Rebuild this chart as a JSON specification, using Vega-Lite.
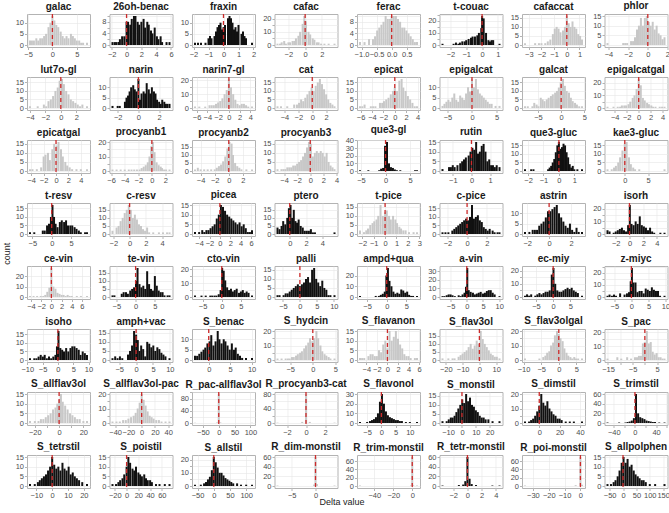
{
"$schema": "https://vega.github.io/schema/vega-lite/v6.json",
"padding": {"left": 2, "top": 0, "right": 2, "bottom": 1},
"background": "white",
"title": {"text": "count", "orient": "left", "anchor": "middle", "fontSize": 9, "fontWeight": "normal", "font": "Liberation Sans", "color": "#222", "offset": 3},
"datasets": {
"panels": [
{"p":"galac","k":"g"},{"p":"26oh-benac","k":"b"},{"p":"fraxin","k":"b"},{"p":"cafac","k":"g"},{"p":"ferac","k":"g"},{"p":"t-couac","k":"b"},{"p":"cafaccat","k":"g"},{"p":"phlor","k":"g"},
{"p":"lut7o-gl","k":"g"},{"p":"narin","k":"b"},{"p":"narin7-gl","k":"g"},{"p":"cat","k":"g"},{"p":"epicat","k":"g"},{"p":"epigalcat","k":"g"},{"p":"galcat","k":"g"},{"p":"epigalcatgal","k":"g"},
{"p":"epicatgal","k":"g"},{"p":"procyanb1","k":"g"},{"p":"procyanb2","k":"g"},{"p":"procyanb3","k":"g"},{"p":"que3-gl","k":"b"},{"p":"rutin","k":"b"},{"p":"que3-gluc","k":"b"},{"p":"kae3-gluc","k":"g"},
{"p":"t-resv","k":"b"},{"p":"c-resv","k":"g"},{"p":"picea","k":"b"},{"p":"ptero","k":"b"},{"p":"t-pice","k":"g"},{"p":"c-pice","k":"b"},{"p":"astrin","k":"b"},{"p":"isorh","k":"b"},
{"p":"ce-vin","k":"g"},{"p":"te-vin","k":"b"},{"p":"cto-vin","k":"b"},{"p":"palli","k":"b"},{"p":"ampd+qua","k":"b"},{"p":"a-vin","k":"b"},{"p":"ec-miy","k":"b"},{"p":"z-miyc","k":"b"},
{"p":"isoho","k":"b"},{"p":"amph+vac","k":"b"},{"p":"S_benac","k":"b"},{"p":"S_hydcin","k":"g"},{"p":"S_flavanon","k":"g"},{"p":"S_flav3ol","k":"g"},{"p":"S_flav3olgal","k":"g"},{"p":"S_pac","k":"g"},
{"p":"S_allflav3ol","k":"g"},{"p":"S_allflav3ol-pac","k":"g"},{"p":"R_pac-allflav3ol","k":"g"},{"p":"R_procyanb3-cat","k":"g"},{"p":"S_flavonol","k":"b"},{"p":"S_monstil","k":"b"},{"p":"S_dimstil","k":"b"},{"p":"S_trimstil","k":"b"},
{"p":"S_tetrstil","k":"b"},{"p":"S_poistil","k":"b"},{"p":"S_allstil","k":"b"},{"p":"R_dim-monstil","k":"g"},{"p":"R_trim-monstil","k":"g"},{"p":"R_tetr-monstil","k":"b"},{"p":"R_poi-monstil","k":"g"},{"p":"S_allpolphen","k":"b"}
],
"bars": [
{"p":"galac","x":-4.6,"y":2},{"p":"galac","x":-4.2,"y":2},{"p":"galac","x":-3.8,"y":2},{"p":"galac","x":-3.3,"y":3},{"p":"galac","x":-2.9,"y":2},{"p":"galac","x":-2.5,"y":3},{"p":"galac","x":-2.1,"y":3},{"p":"galac","x":-1.7,"y":4},{"p":"galac","x":-1.3,"y":5},{"p":"galac","x":-0.8,"y":8},{"p":"galac","x":-0.4,"y":10},{"p":"galac","x":0.0,"y":13},{"p":"galac","x":0.4,"y":11},{"p":"galac","x":0.8,"y":9},{"p":"galac","x":1.2,"y":8},{"p":"galac","x":1.7,"y":6},{"p":"galac","x":2.1,"y":4},{"p":"galac","x":2.5,"y":3},{"p":"galac","x":2.9,"y":4},{"p":"galac","x":3.3,"y":3},{"p":"galac","x":3.8,"y":5},{"p":"galac","x":4.2,"y":4},{"p":"galac","x":4.6,"y":3},{"p":"galac","x":5.0,"y":2},{"p":"galac","x":5.5,"y":2},{"p":"galac","x":5.9,"y":1},{"p":"galac","x":6.3,"y":1},{"p":"galac","x":7.1,"y":1},
{"p":"26oh-benac","x":-1.9,"y":1},{"p":"26oh-benac","x":-1.6,"y":1},{"p":"26oh-benac","x":-1.4,"y":1},{"p":"26oh-benac","x":-1.1,"y":1},{"p":"26oh-benac","x":-0.9,"y":2},{"p":"26oh-benac","x":-0.6,"y":3},{"p":"26oh-benac","x":-0.3,"y":3},{"p":"26oh-benac","x":0.0,"y":8},{"p":"26oh-benac","x":0.2,"y":8},{"p":"26oh-benac","x":0.5,"y":7},{"p":"26oh-benac","x":0.7,"y":9},{"p":"26oh-benac","x":1.0,"y":10},{"p":"26oh-benac","x":1.2,"y":10},{"p":"26oh-benac","x":1.5,"y":8},{"p":"26oh-benac","x":1.7,"y":7},{"p":"26oh-benac","x":2.0,"y":8},{"p":"26oh-benac","x":2.3,"y":9},{"p":"26oh-benac","x":2.5,"y":6},{"p":"26oh-benac","x":2.8,"y":8},{"p":"26oh-benac","x":3.0,"y":7},{"p":"26oh-benac","x":3.3,"y":5},{"p":"26oh-benac","x":3.5,"y":4},{"p":"26oh-benac","x":3.8,"y":6},{"p":"26oh-benac","x":4.1,"y":3},{"p":"26oh-benac","x":4.3,"y":2},{"p":"26oh-benac","x":4.6,"y":3},{"p":"26oh-benac","x":4.8,"y":1},{"p":"26oh-benac","x":5.4,"y":1},{"p":"26oh-benac","x":5.8,"y":1},
{"p":"fraxin","x":-1.9,"y":1},{"p":"fraxin","x":-1.7,"y":1},{"p":"fraxin","x":-1.5,"y":1},{"p":"fraxin","x":-1.2,"y":1},{"p":"fraxin","x":-1.0,"y":3},{"p":"fraxin","x":-0.9,"y":4},{"p":"fraxin","x":-0.8,"y":3},{"p":"fraxin","x":-0.6,"y":4},{"p":"fraxin","x":-0.5,"y":6},{"p":"fraxin","x":-0.4,"y":8},{"p":"fraxin","x":-0.3,"y":9},{"p":"fraxin","x":-0.2,"y":10},{"p":"fraxin","x":-0.1,"y":7},{"p":"fraxin","x":0.0,"y":8},{"p":"fraxin","x":0.1,"y":9},{"p":"fraxin","x":0.3,"y":12},{"p":"fraxin","x":0.4,"y":13},{"p":"fraxin","x":0.5,"y":12},{"p":"fraxin","x":0.6,"y":10},{"p":"fraxin","x":0.7,"y":7},{"p":"fraxin","x":0.8,"y":8},{"p":"fraxin","x":0.9,"y":6},{"p":"fraxin","x":1.0,"y":9},{"p":"fraxin","x":1.2,"y":5},{"p":"fraxin","x":1.3,"y":6},{"p":"fraxin","x":1.4,"y":4},{"p":"fraxin","x":1.5,"y":3},{"p":"fraxin","x":1.9,"y":1},
{"p":"cafac","x":-3.3,"y":1},{"p":"cafac","x":-3.0,"y":1},{"p":"cafac","x":-2.8,"y":2},{"p":"cafac","x":-2.5,"y":3},{"p":"cafac","x":-2.3,"y":1},{"p":"cafac","x":-2.0,"y":2},{"p":"cafac","x":-1.8,"y":2},{"p":"cafac","x":-1.5,"y":3},{"p":"cafac","x":-1.3,"y":3},{"p":"cafac","x":-1.1,"y":5},{"p":"cafac","x":-0.8,"y":7},{"p":"cafac","x":-0.6,"y":10},{"p":"cafac","x":-0.3,"y":16},{"p":"cafac","x":-0.1,"y":22},{"p":"cafac","x":0.1,"y":18},{"p":"cafac","x":0.4,"y":10},{"p":"cafac","x":0.6,"y":8},{"p":"cafac","x":0.9,"y":5},{"p":"cafac","x":1.1,"y":4},{"p":"cafac","x":1.4,"y":2},{"p":"cafac","x":1.6,"y":2},{"p":"cafac","x":1.9,"y":1},{"p":"cafac","x":2.3,"y":1},{"p":"cafac","x":2.8,"y":1},{"p":"cafac","x":3.5,"y":1},
{"p":"ferac","x":-1.05,"y":1},{"p":"ferac","x":-0.9,"y":1},{"p":"ferac","x":-0.75,"y":2},{"p":"ferac","x":-0.62,"y":2},{"p":"ferac","x":-0.55,"y":3},{"p":"ferac","x":-0.48,"y":5},{"p":"ferac","x":-0.41,"y":6},{"p":"ferac","x":-0.34,"y":7},{"p":"ferac","x":-0.27,"y":8},{"p":"ferac","x":-0.2,"y":10},{"p":"ferac","x":-0.13,"y":9},{"p":"ferac","x":-0.06,"y":9},{"p":"ferac","x":0.0,"y":10},{"p":"ferac","x":0.07,"y":10},{"p":"ferac","x":0.14,"y":10},{"p":"ferac","x":0.21,"y":9},{"p":"ferac","x":0.28,"y":8},{"p":"ferac","x":0.35,"y":6},{"p":"ferac","x":0.42,"y":6},{"p":"ferac","x":0.49,"y":5},{"p":"ferac","x":0.56,"y":4},{"p":"ferac","x":0.63,"y":3},{"p":"ferac","x":0.7,"y":2},{"p":"ferac","x":0.77,"y":1},{"p":"ferac","x":0.84,"y":1},
{"p":"t-couac","x":-2.5,"y":1},{"p":"t-couac","x":-1.8,"y":1},{"p":"t-couac","x":-1.65,"y":2},{"p":"t-couac","x":-1.5,"y":1},{"p":"t-couac","x":-1.4,"y":2},{"p":"t-couac","x":-1.25,"y":3},{"p":"t-couac","x":-1.1,"y":3},{"p":"t-couac","x":-1.0,"y":4},{"p":"t-couac","x":-0.85,"y":5},{"p":"t-couac","x":-0.7,"y":6},{"p":"t-couac","x":-0.6,"y":7},{"p":"t-couac","x":-0.45,"y":7},{"p":"t-couac","x":-0.3,"y":8},{"p":"t-couac","x":-0.2,"y":10},{"p":"t-couac","x":-0.05,"y":14},{"p":"t-couac","x":0.0,"y":24},{"p":"t-couac","x":0.1,"y":22},{"p":"t-couac","x":0.25,"y":10},{"p":"t-couac","x":0.4,"y":4},{"p":"t-couac","x":0.5,"y":3},{"p":"t-couac","x":0.6,"y":4},{"p":"t-couac","x":0.7,"y":4},{"p":"t-couac","x":1.1,"y":1},
{"p":"cafaccat","x":-3.3,"y":1},{"p":"cafaccat","x":-2.5,"y":1},{"p":"cafaccat","x":-2.2,"y":1},{"p":"cafaccat","x":-2.0,"y":1},{"p":"cafaccat","x":-1.7,"y":1},{"p":"cafaccat","x":-1.5,"y":2},{"p":"cafaccat","x":-1.3,"y":3},{"p":"cafaccat","x":-1.1,"y":6},{"p":"cafaccat","x":-0.95,"y":9},{"p":"cafaccat","x":-0.8,"y":10},{"p":"cafaccat","x":-0.65,"y":9},{"p":"cafaccat","x":-0.5,"y":7},{"p":"cafaccat","x":-0.3,"y":8},{"p":"cafaccat","x":-0.15,"y":10},{"p":"cafaccat","x":0.0,"y":16},{"p":"cafaccat","x":0.15,"y":12},{"p":"cafaccat","x":0.3,"y":10},{"p":"cafaccat","x":0.45,"y":13},{"p":"cafaccat","x":0.6,"y":10},{"p":"cafaccat","x":0.75,"y":9},{"p":"cafaccat","x":0.9,"y":6},{"p":"cafaccat","x":1.05,"y":5},{"p":"cafaccat","x":1.2,"y":3},
{"p":"phlor","x":-4.1,"y":1},{"p":"phlor","x":-2.5,"y":1},{"p":"phlor","x":-2.3,"y":1},{"p":"phlor","x":-2.1,"y":1},{"p":"phlor","x":-1.7,"y":2},{"p":"phlor","x":-1.5,"y":2},{"p":"phlor","x":-1.3,"y":4},{"p":"phlor","x":-1.1,"y":8},{"p":"phlor","x":-0.9,"y":10},{"p":"phlor","x":-0.7,"y":14},{"p":"phlor","x":-0.5,"y":10},{"p":"phlor","x":-0.3,"y":14},{"p":"phlor","x":-0.1,"y":15},{"p":"phlor","x":0.1,"y":12},{"p":"phlor","x":0.3,"y":10},{"p":"phlor","x":0.5,"y":12},{"p":"phlor","x":0.7,"y":8},{"p":"phlor","x":0.9,"y":10},{"p":"phlor","x":1.1,"y":6},{"p":"phlor","x":1.3,"y":5},{"p":"phlor","x":1.5,"y":3},{"p":"phlor","x":1.7,"y":4},
{"p":"lut7o-gl","x":-4.0,"y":1},{"p":"lut7o-gl","x":-3.0,"y":1},{"p":"lut7o-gl","x":-2.2,"y":2},{"p":"lut7o-gl","x":-1.9,"y":1},{"p":"lut7o-gl","x":-1.6,"y":4},{"p":"lut7o-gl","x":-1.3,"y":5},{"p":"lut7o-gl","x":-1.0,"y":7},{"p":"lut7o-gl","x":-0.7,"y":10},{"p":"lut7o-gl","x":-0.4,"y":12},{"p":"lut7o-gl","x":-0.15,"y":16},{"p":"lut7o-gl","x":0.15,"y":17},{"p":"lut7o-gl","x":0.4,"y":14},{"p":"lut7o-gl","x":0.7,"y":10},{"p":"lut7o-gl","x":1.0,"y":8},{"p":"lut7o-gl","x":1.3,"y":5},{"p":"lut7o-gl","x":1.6,"y":4},{"p":"lut7o-gl","x":1.9,"y":3},{"p":"lut7o-gl","x":2.2,"y":2},{"p":"lut7o-gl","x":2.5,"y":1},{"p":"lut7o-gl","x":2.8,"y":2},{"p":"lut7o-gl","x":3.4,"y":1},
{"p":"narin","x":-2.5,"y":1},{"p":"narin","x":-2.0,"y":1},{"p":"narin","x":-1.8,"y":1},{"p":"narin","x":-1.3,"y":3},{"p":"narin","x":-1.15,"y":5},{"p":"narin","x":-1.0,"y":6},{"p":"narin","x":-0.85,"y":8},{"p":"narin","x":-0.7,"y":10},{"p":"narin","x":-0.5,"y":11},{"p":"narin","x":-0.35,"y":9},{"p":"narin","x":-0.2,"y":8},{"p":"narin","x":0.0,"y":14},{"p":"narin","x":0.15,"y":4},{"p":"narin","x":0.3,"y":7},{"p":"narin","x":0.5,"y":8},{"p":"narin","x":0.65,"y":7},{"p":"narin","x":0.8,"y":12},{"p":"narin","x":1.0,"y":9},{"p":"narin","x":1.15,"y":7},{"p":"narin","x":1.3,"y":10},{"p":"narin","x":1.5,"y":8},{"p":"narin","x":1.65,"y":7},{"p":"narin","x":1.8,"y":4},{"p":"narin","x":2.0,"y":3},{"p":"narin","x":2.15,"y":2},{"p":"narin","x":2.3,"y":4},{"p":"narin","x":2.5,"y":3},{"p":"narin","x":2.65,"y":2},{"p":"narin","x":2.8,"y":2},{"p":"narin","x":3.0,"y":2},
{"p":"narin7-gl","x":-6.3,"y":1},{"p":"narin7-gl","x":-5.5,"y":1},{"p":"narin7-gl","x":-4.4,"y":1},{"p":"narin7-gl","x":-3.6,"y":2},{"p":"narin7-gl","x":-3.2,"y":2},{"p":"narin7-gl","x":-2.8,"y":2},{"p":"narin7-gl","x":-2.4,"y":3},{"p":"narin7-gl","x":-2.0,"y":4},{"p":"narin7-gl","x":-1.6,"y":5},{"p":"narin7-gl","x":-1.2,"y":7},{"p":"narin7-gl","x":-0.8,"y":10},{"p":"narin7-gl","x":-0.4,"y":13},{"p":"narin7-gl","x":0.0,"y":21},{"p":"narin7-gl","x":0.4,"y":15},{"p":"narin7-gl","x":0.8,"y":10},{"p":"narin7-gl","x":1.2,"y":6},{"p":"narin7-gl","x":1.6,"y":3},{"p":"narin7-gl","x":2.0,"y":2},{"p":"narin7-gl","x":2.4,"y":3},{"p":"narin7-gl","x":2.8,"y":3},{"p":"narin7-gl","x":3.2,"y":2},{"p":"narin7-gl","x":3.6,"y":1},{"p":"narin7-gl","x":4.3,"y":1},
{"p":"cat","x":-5.0,"y":1},{"p":"cat","x":-4.5,"y":1},{"p":"cat","x":-3.6,"y":1},{"p":"cat","x":-2.6,"y":2},{"p":"cat","x":-2.2,"y":2},{"p":"cat","x":-1.9,"y":3},{"p":"cat","x":-1.6,"y":5},{"p":"cat","x":-1.3,"y":4},{"p":"cat","x":-1.0,"y":6},{"p":"cat","x":-0.7,"y":8},{"p":"cat","x":-0.4,"y":10},{"p":"cat","x":-0.1,"y":12},{"p":"cat","x":0.2,"y":10},{"p":"cat","x":0.5,"y":13},{"p":"cat","x":0.8,"y":15},{"p":"cat","x":1.1,"y":17},{"p":"cat","x":1.4,"y":14},{"p":"cat","x":1.7,"y":11},{"p":"cat","x":2.0,"y":8},{"p":"cat","x":2.3,"y":5},{"p":"cat","x":2.6,"y":3},{"p":"cat","x":2.9,"y":2},{"p":"cat","x":3.2,"y":1},
{"p":"epicat","x":-6.1,"y":1},{"p":"epicat","x":-5.7,"y":1},{"p":"epicat","x":-5.3,"y":2},{"p":"epicat","x":-4.2,"y":1},{"p":"epicat","x":-3.8,"y":1},{"p":"epicat","x":-3.4,"y":1},{"p":"epicat","x":-2.6,"y":3},{"p":"epicat","x":-2.2,"y":3},{"p":"epicat","x":-1.9,"y":4},{"p":"epicat","x":-1.5,"y":5},{"p":"epicat","x":-1.1,"y":6},{"p":"epicat","x":-0.7,"y":8},{"p":"epicat","x":-0.3,"y":10},{"p":"epicat","x":0.0,"y":12},{"p":"epicat","x":0.4,"y":10},{"p":"epicat","x":0.8,"y":16},{"p":"epicat","x":1.2,"y":17},{"p":"epicat","x":1.5,"y":12},{"p":"epicat","x":1.9,"y":10},{"p":"epicat","x":2.3,"y":7},{"p":"epicat","x":2.7,"y":5},{"p":"epicat","x":3.1,"y":3},{"p":"epicat","x":3.5,"y":1},{"p":"epicat","x":3.9,"y":1},
{"p":"epigalcat","x":-6.0,"y":1},{"p":"epigalcat","x":-5.6,"y":2},{"p":"epigalcat","x":-5.2,"y":3},{"p":"epigalcat","x":-4.8,"y":4},{"p":"epigalcat","x":-4.4,"y":3},{"p":"epigalcat","x":-4.0,"y":5},{"p":"epigalcat","x":-3.6,"y":7},{"p":"epigalcat","x":-3.2,"y":4},{"p":"epigalcat","x":-2.8,"y":3},{"p":"epigalcat","x":-2.4,"y":6},{"p":"epigalcat","x":-2.0,"y":5},{"p":"epigalcat","x":-1.6,"y":4},{"p":"epigalcat","x":-1.2,"y":7},{"p":"epigalcat","x":-0.8,"y":10},{"p":"epigalcat","x":-0.4,"y":8},{"p":"epigalcat","x":0.0,"y":14},{"p":"epigalcat","x":0.4,"y":10},{"p":"epigalcat","x":0.8,"y":14},{"p":"epigalcat","x":1.2,"y":9},{"p":"epigalcat","x":1.6,"y":7},{"p":"epigalcat","x":2.0,"y":6},{"p":"epigalcat","x":2.4,"y":5},{"p":"epigalcat","x":2.8,"y":4},{"p":"epigalcat","x":3.2,"y":3},{"p":"epigalcat","x":3.6,"y":2},{"p":"epigalcat","x":4.0,"y":2},{"p":"epigalcat","x":4.8,"y":1},{"p":"epigalcat","x":5.6,"y":1},
{"p":"galcat","x":-7.8,"y":1},{"p":"galcat","x":-7.2,"y":1},{"p":"galcat","x":-6.2,"y":1},{"p":"galcat","x":-5.8,"y":3},{"p":"galcat","x":-5.3,"y":2},{"p":"galcat","x":-4.9,"y":1},{"p":"galcat","x":-4.4,"y":6},{"p":"galcat","x":-4.0,"y":5},{"p":"galcat","x":-3.6,"y":4},{"p":"galcat","x":-3.1,"y":5},{"p":"galcat","x":-2.7,"y":6},{"p":"galcat","x":-2.2,"y":7},{"p":"galcat","x":-1.8,"y":8},{"p":"galcat","x":-1.3,"y":9},{"p":"galcat","x":-0.9,"y":10},{"p":"galcat","x":-0.5,"y":12},{"p":"galcat","x":-0.1,"y":15},{"p":"galcat","x":0.4,"y":17},{"p":"galcat","x":0.8,"y":13},{"p":"galcat","x":1.2,"y":10},{"p":"galcat","x":1.7,"y":9},{"p":"galcat","x":2.1,"y":6},{"p":"galcat","x":2.5,"y":4},{"p":"galcat","x":3.0,"y":3},{"p":"galcat","x":3.4,"y":2},{"p":"galcat","x":3.9,"y":1},{"p":"galcat","x":4.5,"y":1},
{"p":"epigalcatgal","x":-5.2,"y":1},{"p":"epigalcatgal","x":-4.2,"y":1},{"p":"epigalcatgal","x":-3.5,"y":1},{"p":"epigalcatgal","x":-3.1,"y":1},{"p":"epigalcatgal","x":-2.8,"y":2},{"p":"epigalcatgal","x":-2.4,"y":2},{"p":"epigalcatgal","x":-2.1,"y":2},{"p":"epigalcatgal","x":-1.7,"y":3},{"p":"epigalcatgal","x":-1.4,"y":5},{"p":"epigalcatgal","x":-1.0,"y":8},{"p":"epigalcatgal","x":-0.7,"y":10},{"p":"epigalcatgal","x":-0.35,"y":15},{"p":"epigalcatgal","x":0.0,"y":23},{"p":"epigalcatgal","x":0.35,"y":18},{"p":"epigalcatgal","x":0.7,"y":8},{"p":"epigalcatgal","x":1.0,"y":6},{"p":"epigalcatgal","x":1.4,"y":4},{"p":"epigalcatgal","x":1.7,"y":3},{"p":"epigalcatgal","x":2.1,"y":2},{"p":"epigalcatgal","x":2.4,"y":1},{"p":"epigalcatgal","x":2.8,"y":1},{"p":"epigalcatgal","x":3.5,"y":1},{"p":"epigalcatgal","x":3.9,"y":1},{"p":"epigalcatgal","x":4.3,"y":1},
{"p":"epicatgal","x":-4.2,"y":1},{"p":"epicatgal","x":-3.8,"y":1},{"p":"epicatgal","x":-3.1,"y":1},{"p":"epicatgal","x":-2.4,"y":2},{"p":"epicatgal","x":-2.0,"y":8},{"p":"epicatgal","x":-1.7,"y":9},{"p":"epicatgal","x":-1.3,"y":10},{"p":"epicatgal","x":-1.0,"y":6},{"p":"epicatgal","x":-0.6,"y":12},{"p":"epicatgal","x":-0.3,"y":15},{"p":"epicatgal","x":0.1,"y":14},{"p":"epicatgal","x":0.4,"y":16},{"p":"epicatgal","x":0.8,"y":12},{"p":"epicatgal","x":1.1,"y":8},{"p":"epicatgal","x":1.5,"y":5},{"p":"epicatgal","x":1.8,"y":3},{"p":"epicatgal","x":2.2,"y":2},{"p":"epicatgal","x":2.6,"y":1},{"p":"epicatgal","x":3.3,"y":1},{"p":"epicatgal","x":4.0,"y":1},{"p":"epicatgal","x":5.0,"y":1},
{"p":"procyanb1","x":-5.8,"y":1},{"p":"procyanb1","x":-5.2,"y":1},{"p":"procyanb1","x":-4.6,"y":1},{"p":"procyanb1","x":-4.0,"y":1},{"p":"procyanb1","x":-3.4,"y":1},{"p":"procyanb1","x":-3.0,"y":1},{"p":"procyanb1","x":-2.6,"y":1},{"p":"procyanb1","x":-2.2,"y":1},{"p":"procyanb1","x":-1.8,"y":1},{"p":"procyanb1","x":-1.5,"y":2},{"p":"procyanb1","x":-1.2,"y":3},{"p":"procyanb1","x":-0.9,"y":4},{"p":"procyanb1","x":-0.6,"y":6},{"p":"procyanb1","x":-0.35,"y":10},{"p":"procyanb1","x":-0.1,"y":17},{"p":"procyanb1","x":0.15,"y":20},{"p":"procyanb1","x":0.4,"y":13},{"p":"procyanb1","x":0.7,"y":6},{"p":"procyanb1","x":1.0,"y":4},{"p":"procyanb1","x":1.3,"y":3},{"p":"procyanb1","x":1.5,"y":2},{"p":"procyanb1","x":1.8,"y":1},{"p":"procyanb1","x":2.1,"y":1},{"p":"procyanb1","x":2.6,"y":1},
{"p":"procyanb2","x":-4.8,"y":1},{"p":"procyanb2","x":-4.4,"y":2},{"p":"procyanb2","x":-4.0,"y":1},{"p":"procyanb2","x":-3.5,"y":1},{"p":"procyanb2","x":-3.0,"y":1},{"p":"procyanb2","x":-2.5,"y":1},{"p":"procyanb2","x":-2.0,"y":1},{"p":"procyanb2","x":-1.7,"y":2},{"p":"procyanb2","x":-1.4,"y":3},{"p":"procyanb2","x":-1.1,"y":4},{"p":"procyanb2","x":-0.8,"y":6},{"p":"procyanb2","x":-0.5,"y":9},{"p":"procyanb2","x":-0.2,"y":14},{"p":"procyanb2","x":0.1,"y":18},{"p":"procyanb2","x":0.4,"y":17},{"p":"procyanb2","x":0.6,"y":10},{"p":"procyanb2","x":0.9,"y":5},{"p":"procyanb2","x":1.2,"y":3},{"p":"procyanb2","x":1.5,"y":2},{"p":"procyanb2","x":1.8,"y":1},{"p":"procyanb2","x":2.5,"y":1},{"p":"procyanb2","x":3.3,"y":1},
{"p":"procyanb3","x":-5.0,"y":1},{"p":"procyanb3","x":-4.4,"y":1},{"p":"procyanb3","x":-4.1,"y":1},{"p":"procyanb3","x":-3.8,"y":1},{"p":"procyanb3","x":-3.5,"y":2},{"p":"procyanb3","x":-3.2,"y":2},{"p":"procyanb3","x":-2.9,"y":2},{"p":"procyanb3","x":-2.6,"y":3},{"p":"procyanb3","x":-2.3,"y":3},{"p":"procyanb3","x":-2.0,"y":4},{"p":"procyanb3","x":-1.7,"y":5},{"p":"procyanb3","x":-1.4,"y":6},{"p":"procyanb3","x":-1.1,"y":8},{"p":"procyanb3","x":-0.8,"y":10},{"p":"procyanb3","x":-0.5,"y":13},{"p":"procyanb3","x":-0.2,"y":16},{"p":"procyanb3","x":0.1,"y":15},{"p":"procyanb3","x":0.4,"y":8},{"p":"procyanb3","x":0.7,"y":10},{"p":"procyanb3","x":1.0,"y":11},{"p":"procyanb3","x":1.3,"y":10},{"p":"procyanb3","x":1.6,"y":11},{"p":"procyanb3","x":1.9,"y":10},{"p":"procyanb3","x":2.2,"y":8},{"p":"procyanb3","x":2.5,"y":10},{"p":"procyanb3","x":2.8,"y":5},{"p":"procyanb3","x":3.1,"y":3},{"p":"procyanb3","x":3.4,"y":2},{"p":"procyanb3","x":3.7,"y":1},
{"p":"que3-gl","x":-5.2,"y":1},{"p":"que3-gl","x":-3.5,"y":1},{"p":"que3-gl","x":-1.3,"y":1},{"p":"que3-gl","x":-0.9,"y":3},{"p":"que3-gl","x":-0.5,"y":4},{"p":"que3-gl","x":-0.1,"y":33},{"p":"que3-gl","x":0.3,"y":38},{"p":"que3-gl","x":0.7,"y":10},{"p":"que3-gl","x":1.1,"y":5},{"p":"que3-gl","x":1.5,"y":4},{"p":"que3-gl","x":1.9,"y":2},{"p":"que3-gl","x":2.3,"y":1},{"p":"que3-gl","x":3.0,"y":1},{"p":"que3-gl","x":6.0,"y":1},{"p":"que3-gl","x":6.4,"y":1},
{"p":"rutin","x":-1.55,"y":1},{"p":"rutin","x":-1.2,"y":2},{"p":"rutin","x":-1.1,"y":2},{"p":"rutin","x":-1.0,"y":3},{"p":"rutin","x":-0.9,"y":2},{"p":"rutin","x":-0.75,"y":3},{"p":"rutin","x":-0.6,"y":4},{"p":"rutin","x":-0.5,"y":5},{"p":"rutin","x":-0.4,"y":6},{"p":"rutin","x":-0.3,"y":7},{"p":"rutin","x":-0.15,"y":8},{"p":"rutin","x":-0.05,"y":10},{"p":"rutin","x":0.05,"y":12},{"p":"rutin","x":0.15,"y":11},{"p":"rutin","x":0.25,"y":15},{"p":"rutin","x":0.35,"y":9},{"p":"rutin","x":0.45,"y":10},{"p":"rutin","x":0.55,"y":13},{"p":"rutin","x":0.65,"y":14},{"p":"rutin","x":0.75,"y":10},{"p":"rutin","x":0.85,"y":5},{"p":"rutin","x":0.95,"y":6},{"p":"rutin","x":1.05,"y":3},{"p":"rutin","x":1.15,"y":3},{"p":"rutin","x":1.25,"y":2},{"p":"rutin","x":1.35,"y":3},{"p":"rutin","x":1.5,"y":2},
{"p":"que3-gluc","x":-2.2,"y":1},{"p":"que3-gluc","x":-1.8,"y":1},{"p":"que3-gluc","x":-1.65,"y":1},{"p":"que3-gluc","x":-0.7,"y":1},{"p":"que3-gluc","x":-0.6,"y":2},{"p":"que3-gluc","x":-0.5,"y":3},{"p":"que3-gluc","x":-0.4,"y":5},{"p":"que3-gluc","x":-0.3,"y":7},{"p":"que3-gluc","x":-0.2,"y":11},{"p":"que3-gluc","x":-0.1,"y":15},{"p":"que3-gluc","x":0.0,"y":17},{"p":"que3-gluc","x":0.1,"y":13},{"p":"que3-gluc","x":0.2,"y":14},{"p":"que3-gluc","x":0.3,"y":16},{"p":"que3-gluc","x":0.4,"y":15},{"p":"que3-gluc","x":0.5,"y":11},{"p":"que3-gluc","x":0.6,"y":8},{"p":"que3-gluc","x":0.7,"y":4},{"p":"que3-gluc","x":0.8,"y":2},{"p":"que3-gluc","x":0.9,"y":3},{"p":"que3-gluc","x":1.0,"y":1},{"p":"que3-gluc","x":1.2,"y":1},{"p":"que3-gluc","x":1.5,"y":1},
{"p":"kae3-gluc","x":-3.7,"y":1},{"p":"kae3-gluc","x":-2.8,"y":1},{"p":"kae3-gluc","x":-2.3,"y":2},{"p":"kae3-gluc","x":-1.9,"y":3},{"p":"kae3-gluc","x":-1.4,"y":5},{"p":"kae3-gluc","x":-1.0,"y":8},{"p":"kae3-gluc","x":-0.5,"y":12},{"p":"kae3-gluc","x":0.0,"y":16},{"p":"kae3-gluc","x":0.4,"y":17},{"p":"kae3-gluc","x":0.9,"y":8},{"p":"kae3-gluc","x":1.3,"y":4},{"p":"kae3-gluc","x":1.8,"y":2},{"p":"kae3-gluc","x":2.2,"y":1},{"p":"kae3-gluc","x":3.1,"y":1},{"p":"kae3-gluc","x":8.5,"y":1},
{"p":"t-resv","x":-5.6,"y":1},{"p":"t-resv","x":-4.5,"y":1},{"p":"t-resv","x":-2.3,"y":2},{"p":"t-resv","x":-1.8,"y":2},{"p":"t-resv","x":-1.2,"y":5},{"p":"t-resv","x":-0.7,"y":6},{"p":"t-resv","x":-0.2,"y":10},{"p":"t-resv","x":0.2,"y":17},{"p":"t-resv","x":0.6,"y":10},{"p":"t-resv","x":1.0,"y":6},{"p":"t-resv","x":1.5,"y":4},{"p":"t-resv","x":2.1,"y":7},{"p":"t-resv","x":2.6,"y":8},{"p":"t-resv","x":3.2,"y":7},{"p":"t-resv","x":3.7,"y":8},{"p":"t-resv","x":4.2,"y":5},{"p":"t-resv","x":4.8,"y":5},{"p":"t-resv","x":5.3,"y":5},{"p":"t-resv","x":5.9,"y":4},{"p":"t-resv","x":6.4,"y":3},{"p":"t-resv","x":7.0,"y":2},{"p":"t-resv","x":7.5,"y":1},{"p":"t-resv","x":8.6,"y":1},{"p":"t-resv","x":9.1,"y":1},
{"p":"c-resv","x":-2.1,"y":2},{"p":"c-resv","x":-1.6,"y":4},{"p":"c-resv","x":-1.35,"y":5},{"p":"c-resv","x":-1.1,"y":8},{"p":"c-resv","x":-0.85,"y":10},{"p":"c-resv","x":-0.6,"y":13},{"p":"c-resv","x":-0.35,"y":15},{"p":"c-resv","x":-0.1,"y":18},{"p":"c-resv","x":0.15,"y":15},{"p":"c-resv","x":0.4,"y":10},{"p":"c-resv","x":0.65,"y":12},{"p":"c-resv","x":0.9,"y":9},{"p":"c-resv","x":1.15,"y":6},{"p":"c-resv","x":1.4,"y":5},{"p":"c-resv","x":1.65,"y":3},{"p":"c-resv","x":1.9,"y":2},{"p":"c-resv","x":2.15,"y":4},{"p":"c-resv","x":2.4,"y":1},{"p":"c-resv","x":2.9,"y":1},{"p":"c-resv","x":3.6,"y":1},{"p":"c-resv","x":4.1,"y":1},{"p":"c-resv","x":4.6,"y":1},{"p":"c-resv","x":4.9,"y":1},
{"p":"picea","x":-4.8,"y":1},{"p":"picea","x":-4.0,"y":1},{"p":"picea","x":-3.4,"y":2},{"p":"picea","x":-3.0,"y":1},{"p":"picea","x":-2.6,"y":2},{"p":"picea","x":-2.2,"y":2},{"p":"picea","x":-1.8,"y":3},{"p":"picea","x":-1.4,"y":4},{"p":"picea","x":-1.0,"y":5},{"p":"picea","x":-0.6,"y":8},{"p":"picea","x":-0.2,"y":10},{"p":"picea","x":0.2,"y":15},{"p":"picea","x":0.6,"y":14},{"p":"picea","x":1.0,"y":12},{"p":"picea","x":1.4,"y":10},{"p":"picea","x":1.8,"y":9},{"p":"picea","x":2.2,"y":8},{"p":"picea","x":2.6,"y":7},{"p":"picea","x":3.0,"y":6},{"p":"picea","x":3.4,"y":5},{"p":"picea","x":3.8,"y":6},{"p":"picea","x":4.2,"y":4},{"p":"picea","x":4.6,"y":5},{"p":"picea","x":5.0,"y":3},{"p":"picea","x":5.4,"y":1},{"p":"picea","x":5.8,"y":1},{"p":"picea","x":6.2,"y":2},
{"p":"ptero","x":-1.5,"y":4},{"p":"ptero","x":-1.25,"y":3},{"p":"ptero","x":-1.0,"y":5},{"p":"ptero","x":-0.8,"y":8},{"p":"ptero","x":-0.55,"y":6},{"p":"ptero","x":-0.3,"y":10},{"p":"ptero","x":-0.1,"y":16},{"p":"ptero","x":0.1,"y":18},{"p":"ptero","x":0.3,"y":10},{"p":"ptero","x":0.5,"y":15},{"p":"ptero","x":0.7,"y":8},{"p":"ptero","x":0.9,"y":7},{"p":"ptero","x":1.1,"y":9},{"p":"ptero","x":1.35,"y":5},{"p":"ptero","x":1.6,"y":4},{"p":"ptero","x":1.85,"y":2},{"p":"ptero","x":2.1,"y":2},{"p":"ptero","x":2.35,"y":2},{"p":"ptero","x":2.6,"y":3},{"p":"ptero","x":2.85,"y":1},{"p":"ptero","x":3.1,"y":1},{"p":"ptero","x":5.5,"y":1},
{"p":"t-pice","x":-2.2,"y":2},{"p":"t-pice","x":-1.85,"y":1},{"p":"t-pice","x":-1.65,"y":2},{"p":"t-pice","x":-1.5,"y":3},{"p":"t-pice","x":-1.3,"y":5},{"p":"t-pice","x":-1.1,"y":6},{"p":"t-pice","x":-0.95,"y":7},{"p":"t-pice","x":-0.75,"y":8},{"p":"t-pice","x":-0.6,"y":10},{"p":"t-pice","x":-0.4,"y":16},{"p":"t-pice","x":-0.2,"y":10},{"p":"t-pice","x":0.0,"y":12},{"p":"t-pice","x":0.15,"y":13},{"p":"t-pice","x":0.35,"y":10},{"p":"t-pice","x":0.5,"y":8},{"p":"t-pice","x":0.7,"y":10},{"p":"t-pice","x":0.9,"y":8},{"p":"t-pice","x":1.05,"y":6},{"p":"t-pice","x":1.25,"y":4},{"p":"t-pice","x":1.4,"y":3},{"p":"t-pice","x":1.6,"y":2},{"p":"t-pice","x":1.8,"y":2},{"p":"t-pice","x":2.1,"y":1},{"p":"t-pice","x":2.5,"y":1},{"p":"t-pice","x":2.8,"y":1},
{"p":"c-pice","x":-2.5,"y":1},{"p":"c-pice","x":-2.2,"y":1},{"p":"c-pice","x":-1.9,"y":1},{"p":"c-pice","x":-1.5,"y":2},{"p":"c-pice","x":-1.3,"y":3},{"p":"c-pice","x":-1.1,"y":4},{"p":"c-pice","x":-0.9,"y":5},{"p":"c-pice","x":-0.7,"y":6},{"p":"c-pice","x":-0.5,"y":7},{"p":"c-pice","x":-0.3,"y":8},{"p":"c-pice","x":-0.1,"y":9},{"p":"c-pice","x":0.1,"y":8},{"p":"c-pice","x":0.3,"y":10},{"p":"c-pice","x":0.5,"y":17},{"p":"c-pice","x":0.7,"y":9},{"p":"c-pice","x":0.9,"y":10},{"p":"c-pice","x":1.1,"y":11},{"p":"c-pice","x":1.3,"y":8},{"p":"c-pice","x":1.5,"y":7},{"p":"c-pice","x":1.7,"y":4},{"p":"c-pice","x":1.9,"y":3},{"p":"c-pice","x":2.1,"y":2},{"p":"c-pice","x":2.3,"y":3},{"p":"c-pice","x":2.6,"y":2},{"p":"c-pice","x":2.8,"y":1},{"p":"c-pice","x":3.1,"y":1},{"p":"c-pice","x":3.3,"y":1},
{"p":"astrin","x":-2.2,"y":1},{"p":"astrin","x":-1.8,"y":1},{"p":"astrin","x":-1.5,"y":2},{"p":"astrin","x":-1.3,"y":2},{"p":"astrin","x":-1.1,"y":2},{"p":"astrin","x":-0.9,"y":4},{"p":"astrin","x":-0.7,"y":5},{"p":"astrin","x":-0.5,"y":6},{"p":"astrin","x":-0.3,"y":8},{"p":"astrin","x":-0.1,"y":11},{"p":"astrin","x":0.1,"y":11},{"p":"astrin","x":0.3,"y":12},{"p":"astrin","x":0.5,"y":13},{"p":"astrin","x":0.7,"y":14},{"p":"astrin","x":0.9,"y":10},{"p":"astrin","x":1.1,"y":8},{"p":"astrin","x":1.3,"y":6},{"p":"astrin","x":1.5,"y":4},{"p":"astrin","x":1.7,"y":3},{"p":"astrin","x":1.9,"y":5},{"p":"astrin","x":2.1,"y":2},{"p":"astrin","x":2.3,"y":1},{"p":"astrin","x":2.5,"y":3},{"p":"astrin","x":2.7,"y":1},{"p":"astrin","x":3.0,"y":1},
{"p":"isorh","x":-3.2,"y":3},{"p":"isorh","x":-2.9,"y":2},{"p":"isorh","x":-2.3,"y":1},{"p":"isorh","x":-2.0,"y":2},{"p":"isorh","x":-1.7,"y":3},{"p":"isorh","x":-1.4,"y":4},{"p":"isorh","x":-1.1,"y":5},{"p":"isorh","x":-0.8,"y":3},{"p":"isorh","x":-0.5,"y":2},{"p":"isorh","x":-0.2,"y":7},{"p":"isorh","x":0.05,"y":23},{"p":"isorh","x":0.3,"y":8},{"p":"isorh","x":0.6,"y":7},{"p":"isorh","x":0.9,"y":10},{"p":"isorh","x":1.2,"y":8},{"p":"isorh","x":1.5,"y":14},{"p":"isorh","x":1.8,"y":7},{"p":"isorh","x":2.1,"y":6},{"p":"isorh","x":2.4,"y":5},{"p":"isorh","x":2.7,"y":3},{"p":"isorh","x":3.0,"y":5},{"p":"isorh","x":3.3,"y":2},{"p":"isorh","x":3.6,"y":1},{"p":"isorh","x":4.5,"y":1},{"p":"isorh","x":5.1,"y":1},
{"p":"ce-vin","x":-4.2,"y":1},{"p":"ce-vin","x":-3.5,"y":1},{"p":"ce-vin","x":-2.8,"y":1},{"p":"ce-vin","x":-2.1,"y":1},{"p":"ce-vin","x":-1.6,"y":1},{"p":"ce-vin","x":-1.2,"y":2},{"p":"ce-vin","x":-0.8,"y":5},{"p":"ce-vin","x":-0.4,"y":9},{"p":"ce-vin","x":0.0,"y":28},{"p":"ce-vin","x":0.4,"y":10},{"p":"ce-vin","x":0.8,"y":8},{"p":"ce-vin","x":1.2,"y":4},{"p":"ce-vin","x":1.6,"y":3},{"p":"ce-vin","x":2.0,"y":2},{"p":"ce-vin","x":2.4,"y":2},{"p":"ce-vin","x":2.8,"y":1},{"p":"ce-vin","x":3.2,"y":2},{"p":"ce-vin","x":3.6,"y":1},{"p":"ce-vin","x":4.0,"y":1},{"p":"ce-vin","x":5.0,"y":1},{"p":"ce-vin","x":5.8,"y":1},{"p":"ce-vin","x":7.0,"y":1},
{"p":"te-vin","x":-6.0,"y":1},{"p":"te-vin","x":-5.5,"y":1},{"p":"te-vin","x":-3.6,"y":2},{"p":"te-vin","x":-3.1,"y":3},{"p":"te-vin","x":-2.5,"y":3},{"p":"te-vin","x":-2.0,"y":2},{"p":"te-vin","x":-1.4,"y":4},{"p":"te-vin","x":-0.9,"y":5},{"p":"te-vin","x":-0.4,"y":6},{"p":"te-vin","x":0.1,"y":10},{"p":"te-vin","x":0.5,"y":18},{"p":"te-vin","x":1.0,"y":8},{"p":"te-vin","x":1.5,"y":6},{"p":"te-vin","x":2.0,"y":7},{"p":"te-vin","x":2.5,"y":5},{"p":"te-vin","x":3.0,"y":16},{"p":"te-vin","x":3.5,"y":8},{"p":"te-vin","x":4.0,"y":5},{"p":"te-vin","x":4.5,"y":4},{"p":"te-vin","x":5.0,"y":13},{"p":"te-vin","x":5.5,"y":7},{"p":"te-vin","x":6.0,"y":4},{"p":"te-vin","x":6.5,"y":3},{"p":"te-vin","x":7.0,"y":3},{"p":"te-vin","x":7.5,"y":1},{"p":"te-vin","x":8.3,"y":1},{"p":"te-vin","x":8.8,"y":1},
{"p":"cto-vin","x":-7.0,"y":1},{"p":"cto-vin","x":-5.3,"y":1},{"p":"cto-vin","x":-4.2,"y":1},{"p":"cto-vin","x":-3.0,"y":1},{"p":"cto-vin","x":-2.5,"y":1},{"p":"cto-vin","x":-1.9,"y":1},{"p":"cto-vin","x":-1.4,"y":1},{"p":"cto-vin","x":-0.8,"y":2},{"p":"cto-vin","x":-0.3,"y":5},{"p":"cto-vin","x":0.1,"y":21},{"p":"cto-vin","x":0.5,"y":19},{"p":"cto-vin","x":0.9,"y":12},{"p":"cto-vin","x":1.4,"y":7},{"p":"cto-vin","x":1.9,"y":5},{"p":"cto-vin","x":2.4,"y":6},{"p":"cto-vin","x":2.9,"y":4},{"p":"cto-vin","x":3.4,"y":5},{"p":"cto-vin","x":3.9,"y":6},{"p":"cto-vin","x":4.5,"y":3},{"p":"cto-vin","x":5.0,"y":4},{"p":"cto-vin","x":5.5,"y":5},{"p":"cto-vin","x":6.0,"y":3},{"p":"cto-vin","x":6.5,"y":4},{"p":"cto-vin","x":7.0,"y":3},{"p":"cto-vin","x":7.9,"y":1},
{"p":"palli","x":-6.6,"y":1},{"p":"palli","x":-6.0,"y":1},{"p":"palli","x":-4.8,"y":1},{"p":"palli","x":-4.2,"y":2},{"p":"palli","x":-3.6,"y":2},{"p":"palli","x":-3.0,"y":3},{"p":"palli","x":-2.4,"y":4},{"p":"palli","x":-1.8,"y":5},{"p":"palli","x":-1.2,"y":6},{"p":"palli","x":-0.6,"y":7},{"p":"palli","x":0.0,"y":6},{"p":"palli","x":0.6,"y":7},{"p":"palli","x":1.2,"y":8},{"p":"palli","x":1.8,"y":10},{"p":"palli","x":2.4,"y":11},{"p":"palli","x":3.0,"y":8},{"p":"palli","x":3.6,"y":15},{"p":"palli","x":4.2,"y":16},{"p":"palli","x":4.8,"y":10},{"p":"palli","x":5.4,"y":8},{"p":"palli","x":6.0,"y":6},{"p":"palli","x":6.6,"y":9},{"p":"palli","x":7.2,"y":5},{"p":"palli","x":7.8,"y":4},{"p":"palli","x":8.4,"y":1},{"p":"palli","x":9.0,"y":1},{"p":"palli","x":10.2,"y":1},
{"p":"ampd+qua","x":-6.8,"y":1},{"p":"ampd+qua","x":-2.8,"y":1},{"p":"ampd+qua","x":-2.0,"y":1},{"p":"ampd+qua","x":-1.5,"y":2},{"p":"ampd+qua","x":-1.0,"y":3},{"p":"ampd+qua","x":-0.5,"y":5},{"p":"ampd+qua","x":-0.1,"y":20},{"p":"ampd+qua","x":0.3,"y":27},{"p":"ampd+qua","x":0.7,"y":15},{"p":"ampd+qua","x":1.2,"y":10},{"p":"ampd+qua","x":1.7,"y":5},{"p":"ampd+qua","x":2.2,"y":3},{"p":"ampd+qua","x":2.7,"y":4},{"p":"ampd+qua","x":3.2,"y":3},{"p":"ampd+qua","x":3.7,"y":7},{"p":"ampd+qua","x":4.2,"y":6},{"p":"ampd+qua","x":4.7,"y":4},{"p":"ampd+qua","x":5.2,"y":5},{"p":"ampd+qua","x":5.7,"y":2},{"p":"ampd+qua","x":6.2,"y":1},{"p":"ampd+qua","x":6.7,"y":1},{"p":"ampd+qua","x":7.7,"y":1},
{"p":"a-vin","x":-7.5,"y":1},{"p":"a-vin","x":-6.9,"y":1},{"p":"a-vin","x":-6.2,"y":2},{"p":"a-vin","x":-5.6,"y":3},{"p":"a-vin","x":-5.0,"y":3},{"p":"a-vin","x":-4.4,"y":2},{"p":"a-vin","x":-3.7,"y":1},{"p":"a-vin","x":-2.5,"y":2},{"p":"a-vin","x":-1.9,"y":1},{"p":"a-vin","x":-1.3,"y":3},{"p":"a-vin","x":-0.7,"y":5},{"p":"a-vin","x":-0.25,"y":12},{"p":"a-vin","x":0.15,"y":34},{"p":"a-vin","x":0.6,"y":8},{"p":"a-vin","x":1.2,"y":6},{"p":"a-vin","x":1.9,"y":5},{"p":"a-vin","x":2.5,"y":3},{"p":"a-vin","x":3.1,"y":4},{"p":"a-vin","x":3.7,"y":5},{"p":"a-vin","x":4.3,"y":6},{"p":"a-vin","x":5.0,"y":4},{"p":"a-vin","x":5.6,"y":5},{"p":"a-vin","x":6.2,"y":7},{"p":"a-vin","x":6.8,"y":8},{"p":"a-vin","x":7.4,"y":8},{"p":"a-vin","x":8.0,"y":5},{"p":"a-vin","x":8.6,"y":3},{"p":"a-vin","x":10.1,"y":1},
{"p":"ec-miy","x":-8.2,"y":1},{"p":"ec-miy","x":-7.6,"y":2},{"p":"ec-miy","x":-7.0,"y":1},{"p":"ec-miy","x":-6.4,"y":2},{"p":"ec-miy","x":-5.2,"y":1},{"p":"ec-miy","x":-4.6,"y":2},{"p":"ec-miy","x":-4.0,"y":3},{"p":"ec-miy","x":-3.4,"y":2},{"p":"ec-miy","x":-2.8,"y":3},{"p":"ec-miy","x":-2.2,"y":4},{"p":"ec-miy","x":-1.6,"y":4},{"p":"ec-miy","x":-1.0,"y":5},{"p":"ec-miy","x":-0.4,"y":17},{"p":"ec-miy","x":0.1,"y":22},{"p":"ec-miy","x":0.6,"y":10},{"p":"ec-miy","x":1.2,"y":5},{"p":"ec-miy","x":1.8,"y":4},{"p":"ec-miy","x":2.4,"y":4},{"p":"ec-miy","x":3.0,"y":5},{"p":"ec-miy","x":3.6,"y":6},{"p":"ec-miy","x":4.2,"y":7},{"p":"ec-miy","x":4.8,"y":6},{"p":"ec-miy","x":5.4,"y":7},{"p":"ec-miy","x":6.0,"y":5},{"p":"ec-miy","x":6.6,"y":4},{"p":"ec-miy","x":7.2,"y":3},{"p":"ec-miy","x":8.4,"y":1},
{"p":"z-miyc","x":-7.0,"y":1},{"p":"z-miyc","x":-6.4,"y":2},{"p":"z-miyc","x":-5.7,"y":1},{"p":"z-miyc","x":-5.1,"y":2},{"p":"z-miyc","x":-4.5,"y":1},{"p":"z-miyc","x":-3.3,"y":3},{"p":"z-miyc","x":-2.0,"y":2},{"p":"z-miyc","x":-1.3,"y":3},{"p":"z-miyc","x":-0.7,"y":4},{"p":"z-miyc","x":-0.2,"y":13},{"p":"z-miyc","x":0.15,"y":24},{"p":"z-miyc","x":0.6,"y":12},{"p":"z-miyc","x":1.2,"y":12},{"p":"z-miyc","x":1.8,"y":4},{"p":"z-miyc","x":2.4,"y":5},{"p":"z-miyc","x":3.0,"y":5},{"p":"z-miyc","x":3.6,"y":3},{"p":"z-miyc","x":4.2,"y":7},{"p":"z-miyc","x":4.8,"y":6},{"p":"z-miyc","x":5.4,"y":5},{"p":"z-miyc","x":6.0,"y":8},{"p":"z-miyc","x":6.6,"y":6},{"p":"z-miyc","x":7.2,"y":5},{"p":"z-miyc","x":7.8,"y":5},{"p":"z-miyc","x":8.4,"y":1},{"p":"z-miyc","x":9.7,"y":1},
{"p":"isoho","x":-9.1,"y":1},{"p":"isoho","x":-7.7,"y":1},{"p":"isoho","x":-7.0,"y":1},{"p":"isoho","x":-6.3,"y":2},{"p":"isoho","x":-5.6,"y":3},{"p":"isoho","x":-4.9,"y":2},{"p":"isoho","x":-4.3,"y":3},{"p":"isoho","x":-3.6,"y":1},{"p":"isoho","x":-2.9,"y":2},{"p":"isoho","x":-2.2,"y":1},{"p":"isoho","x":-1.5,"y":2},{"p":"isoho","x":-0.8,"y":3},{"p":"isoho","x":-0.3,"y":8},{"p":"isoho","x":0.2,"y":17},{"p":"isoho","x":0.8,"y":7},{"p":"isoho","x":1.4,"y":6},{"p":"isoho","x":2.0,"y":5},{"p":"isoho","x":2.7,"y":7},{"p":"isoho","x":3.4,"y":5},{"p":"isoho","x":4.1,"y":7},{"p":"isoho","x":4.7,"y":8},{"p":"isoho","x":5.4,"y":8},{"p":"isoho","x":6.1,"y":7},{"p":"isoho","x":6.8,"y":6},{"p":"isoho","x":7.4,"y":3},{"p":"isoho","x":8.1,"y":5},{"p":"isoho","x":8.8,"y":4},{"p":"isoho","x":9.5,"y":3},
{"p":"amph+vac","x":-7.0,"y":1},{"p":"amph+vac","x":-6.2,"y":2},{"p":"amph+vac","x":-5.5,"y":1},{"p":"amph+vac","x":-4.8,"y":2},{"p":"amph+vac","x":-4.1,"y":1},{"p":"amph+vac","x":-2.4,"y":3},{"p":"amph+vac","x":-1.8,"y":5},{"p":"amph+vac","x":-1.2,"y":8},{"p":"amph+vac","x":-0.6,"y":16},{"p":"amph+vac","x":0.0,"y":14},{"p":"amph+vac","x":0.5,"y":11},{"p":"amph+vac","x":1.0,"y":5},{"p":"amph+vac","x":1.5,"y":8},{"p":"amph+vac","x":2.1,"y":6},{"p":"amph+vac","x":2.7,"y":2},{"p":"amph+vac","x":3.3,"y":10},{"p":"amph+vac","x":3.9,"y":9},{"p":"amph+vac","x":4.5,"y":7},{"p":"amph+vac","x":5.1,"y":8},{"p":"amph+vac","x":5.7,"y":5},{"p":"amph+vac","x":6.3,"y":7},{"p":"amph+vac","x":6.9,"y":6},{"p":"amph+vac","x":7.5,"y":4},{"p":"amph+vac","x":8.1,"y":3},{"p":"amph+vac","x":8.7,"y":2},{"p":"amph+vac","x":9.9,"y":1},
{"p":"S_benac","x":-3.2,"y":2},{"p":"S_benac","x":-2.7,"y":2},{"p":"S_benac","x":-2.2,"y":3},{"p":"S_benac","x":-1.7,"y":4},{"p":"S_benac","x":-1.2,"y":5},{"p":"S_benac","x":-0.8,"y":6},{"p":"S_benac","x":-0.3,"y":8},{"p":"S_benac","x":0.2,"y":9},{"p":"S_benac","x":0.6,"y":12},{"p":"S_benac","x":1.1,"y":7},{"p":"S_benac","x":1.6,"y":9},{"p":"S_benac","x":2.1,"y":14},{"p":"S_benac","x":2.5,"y":10},{"p":"S_benac","x":3.0,"y":8},{"p":"S_benac","x":3.5,"y":10},{"p":"S_benac","x":3.9,"y":9},{"p":"S_benac","x":4.4,"y":7},{"p":"S_benac","x":4.9,"y":5},{"p":"S_benac","x":5.4,"y":8},{"p":"S_benac","x":5.9,"y":5},{"p":"S_benac","x":6.3,"y":6},{"p":"S_benac","x":6.8,"y":3},{"p":"S_benac","x":7.3,"y":2},{"p":"S_benac","x":7.8,"y":1},{"p":"S_benac","x":8.7,"y":1},{"p":"S_benac","x":10.1,"y":1},
{"p":"S_hydcin","x":-7.8,"y":1},{"p":"S_hydcin","x":-6.9,"y":1},{"p":"S_hydcin","x":-6.0,"y":1},{"p":"S_hydcin","x":-5.5,"y":1},{"p":"S_hydcin","x":-5.1,"y":1},{"p":"S_hydcin","x":-4.6,"y":2},{"p":"S_hydcin","x":-4.2,"y":2},{"p":"S_hydcin","x":-3.7,"y":3},{"p":"S_hydcin","x":-3.3,"y":4},{"p":"S_hydcin","x":-2.8,"y":5},{"p":"S_hydcin","x":-2.4,"y":6},{"p":"S_hydcin","x":-1.9,"y":8},{"p":"S_hydcin","x":-1.5,"y":10},{"p":"S_hydcin","x":-1.0,"y":12},{"p":"S_hydcin","x":-0.6,"y":15},{"p":"S_hydcin","x":-0.1,"y":13},{"p":"S_hydcin","x":0.3,"y":15},{"p":"S_hydcin","x":0.8,"y":20},{"p":"S_hydcin","x":1.2,"y":15},{"p":"S_hydcin","x":1.7,"y":10},{"p":"S_hydcin","x":2.1,"y":6},{"p":"S_hydcin","x":2.6,"y":4},{"p":"S_hydcin","x":3.0,"y":3},{"p":"S_hydcin","x":3.5,"y":2},{"p":"S_hydcin","x":3.9,"y":1},{"p":"S_hydcin","x":4.8,"y":1},
{"p":"S_flavanon","x":-5.2,"y":1},{"p":"S_flavanon","x":-4.8,"y":1},{"p":"S_flavanon","x":-4.4,"y":1},{"p":"S_flavanon","x":-3.6,"y":2},{"p":"S_flavanon","x":-3.2,"y":3},{"p":"S_flavanon","x":-2.8,"y":3},{"p":"S_flavanon","x":-2.4,"y":2},{"p":"S_flavanon","x":-2.0,"y":2},{"p":"S_flavanon","x":-1.6,"y":5},{"p":"S_flavanon","x":-1.2,"y":4},{"p":"S_flavanon","x":-0.8,"y":8},{"p":"S_flavanon","x":-0.4,"y":10},{"p":"S_flavanon","x":0.0,"y":6},{"p":"S_flavanon","x":0.4,"y":15},{"p":"S_flavanon","x":0.8,"y":10},{"p":"S_flavanon","x":1.2,"y":12},{"p":"S_flavanon","x":1.6,"y":15},{"p":"S_flavanon","x":2.0,"y":11},{"p":"S_flavanon","x":2.4,"y":8},{"p":"S_flavanon","x":2.8,"y":6},{"p":"S_flavanon","x":3.2,"y":3},{"p":"S_flavanon","x":3.6,"y":2},{"p":"S_flavanon","x":4.0,"y":2},{"p":"S_flavanon","x":4.4,"y":1},{"p":"S_flavanon","x":5.2,"y":1},{"p":"S_flavanon","x":5.6,"y":1},
{"p":"S_flav3ol","x":-22,"y":1},{"p":"S_flav3ol","x":-18.5,"y":1},{"p":"S_flav3ol","x":-16,"y":1},{"p":"S_flav3ol","x":-14.8,"y":1},{"p":"S_flav3ol","x":-12.4,"y":2},{"p":"S_flav3ol","x":-11.2,"y":3},{"p":"S_flav3ol","x":-10,"y":4},{"p":"S_flav3ol","x":-8.8,"y":5},{"p":"S_flav3ol","x":-7.6,"y":6},{"p":"S_flav3ol","x":-6.4,"y":8},{"p":"S_flav3ol","x":-5.2,"y":10},{"p":"S_flav3ol","x":-4,"y":7},{"p":"S_flav3ol","x":-2.8,"y":9},{"p":"S_flav3ol","x":-1.6,"y":12},{"p":"S_flav3ol","x":-0.4,"y":10},{"p":"S_flav3ol","x":0.8,"y":18},{"p":"S_flav3ol","x":2,"y":13},{"p":"S_flav3ol","x":3.2,"y":10},{"p":"S_flav3ol","x":4.4,"y":8},{"p":"S_flav3ol","x":5.6,"y":6},{"p":"S_flav3ol","x":6.8,"y":4},{"p":"S_flav3ol","x":8,"y":3},{"p":"S_flav3ol","x":9.2,"y":2},{"p":"S_flav3ol","x":10.4,"y":2},{"p":"S_flav3ol","x":12,"y":1},
{"p":"S_flav3olgal","x":-9.6,"y":1},{"p":"S_flav3olgal","x":-5.5,"y":1},{"p":"S_flav3olgal","x":-4.4,"y":2},{"p":"S_flav3olgal","x":-3.8,"y":3},{"p":"S_flav3olgal","x":-3.3,"y":5},{"p":"S_flav3olgal","x":-2.7,"y":6},{"p":"S_flav3olgal","x":-2.2,"y":10},{"p":"S_flav3olgal","x":-1.6,"y":12},{"p":"S_flav3olgal","x":-1.1,"y":17},{"p":"S_flav3olgal","x":-0.5,"y":20},{"p":"S_flav3olgal","x":0.0,"y":18},{"p":"S_flav3olgal","x":0.5,"y":15},{"p":"S_flav3olgal","x":1.1,"y":13},{"p":"S_flav3olgal","x":1.6,"y":8},{"p":"S_flav3olgal","x":2.2,"y":5},{"p":"S_flav3olgal","x":2.7,"y":3},{"p":"S_flav3olgal","x":3.3,"y":2},{"p":"S_flav3olgal","x":3.8,"y":1},{"p":"S_flav3olgal","x":4.4,"y":2},{"p":"S_flav3olgal","x":4.9,"y":1},{"p":"S_flav3olgal","x":5.5,"y":1},{"p":"S_flav3olgal","x":6.6,"y":1},
{"p":"S_pac","x":-15.2,"y":1},{"p":"S_pac","x":-11.2,"y":2},{"p":"S_pac","x":-9.6,"y":1},{"p":"S_pac","x":-7.2,"y":2},{"p":"S_pac","x":-5.6,"y":1},{"p":"S_pac","x":-4.0,"y":2},{"p":"S_pac","x":-3.2,"y":2},{"p":"S_pac","x":-2.4,"y":3},{"p":"S_pac","x":-1.6,"y":3},{"p":"S_pac","x":-0.8,"y":12},{"p":"S_pac","x":0.0,"y":13},{"p":"S_pac","x":0.8,"y":21},{"p":"S_pac","x":1.6,"y":12},{"p":"S_pac","x":2.4,"y":13},{"p":"S_pac","x":3.2,"y":6},{"p":"S_pac","x":4.0,"y":4},{"p":"S_pac","x":4.8,"y":5},{"p":"S_pac","x":5.6,"y":2},{"p":"S_pac","x":6.4,"y":2},{"p":"S_pac","x":7.2,"y":1},{"p":"S_pac","x":8.0,"y":1},
{"p":"S_allflav3ol","x":-24,"y":1},{"p":"S_allflav3ol","x":-20,"y":1},{"p":"S_allflav3ol","x":-17,"y":1},{"p":"S_allflav3ol","x":-15,"y":2},{"p":"S_allflav3ol","x":-13,"y":2},{"p":"S_allflav3ol","x":-11,"y":3},{"p":"S_allflav3ol","x":-9,"y":4},{"p":"S_allflav3ol","x":-7,"y":5},{"p":"S_allflav3ol","x":-5,"y":7},{"p":"S_allflav3ol","x":-3,"y":8},{"p":"S_allflav3ol","x":-1.5,"y":10},{"p":"S_allflav3ol","x":0,"y":12},{"p":"S_allflav3ol","x":1.5,"y":15},{"p":"S_allflav3ol","x":3,"y":11},{"p":"S_allflav3ol","x":5,"y":9},{"p":"S_allflav3ol","x":7,"y":7},{"p":"S_allflav3ol","x":9,"y":5},{"p":"S_allflav3ol","x":11,"y":4},{"p":"S_allflav3ol","x":13,"y":3},{"p":"S_allflav3ol","x":15,"y":2},{"p":"S_allflav3ol","x":17,"y":2},{"p":"S_allflav3ol","x":20,"y":1},{"p":"S_allflav3ol","x":23,"y":1},
{"p":"S_allflav3ol-pac","x":-44,"y":1},{"p":"S_allflav3ol-pac","x":-38,"y":1},{"p":"S_allflav3ol-pac","x":-33,"y":1},{"p":"S_allflav3ol-pac","x":-28,"y":2},{"p":"S_allflav3ol-pac","x":-24,"y":2},{"p":"S_allflav3ol-pac","x":-20,"y":3},{"p":"S_allflav3ol-pac","x":-16,"y":4},{"p":"S_allflav3ol-pac","x":-12,"y":5},{"p":"S_allflav3ol-pac","x":-9,"y":7},{"p":"S_allflav3ol-pac","x":-6,"y":10},{"p":"S_allflav3ol-pac","x":-3,"y":14},{"p":"S_allflav3ol-pac","x":0,"y":20},{"p":"S_allflav3ol-pac","x":3,"y":16},{"p":"S_allflav3ol-pac","x":6,"y":12},{"p":"S_allflav3ol-pac","x":9,"y":8},{"p":"S_allflav3ol-pac","x":12,"y":5},{"p":"S_allflav3ol-pac","x":15,"y":4},{"p":"S_allflav3ol-pac","x":18,"y":3},{"p":"S_allflav3ol-pac","x":22,"y":2},{"p":"S_allflav3ol-pac","x":26,"y":2},{"p":"S_allflav3ol-pac","x":30,"y":1},{"p":"S_allflav3ol-pac","x":36,"y":1},{"p":"S_allflav3ol-pac","x":42,"y":1},
{"p":"R_pac-allflav3ol","x":-75,"y":1},{"p":"R_pac-allflav3ol","x":-5,"y":2},{"p":"R_pac-allflav3ol","x":0,"y":95},{"p":"R_pac-allflav3ol","x":5,"y":2},{"p":"R_pac-allflav3ol","x":105,"y":1},
{"p":"R_procyanb3-cat","x":-3,"y":1},{"p":"R_procyanb3-cat","x":-0.4,"y":3},{"p":"R_procyanb3-cat","x":0,"y":80},{"p":"R_procyanb3-cat","x":0.4,"y":3},{"p":"R_procyanb3-cat","x":3,"y":1},
{"p":"S_flavonol","x":-7.5,"y":1},{"p":"S_flavonol","x":-5,"y":1},{"p":"S_flavonol","x":-4,"y":2},{"p":"S_flavonol","x":-3.3,"y":3},{"p":"S_flavonol","x":-2.6,"y":4},{"p":"S_flavonol","x":-1.9,"y":6},{"p":"S_flavonol","x":-1.2,"y":10},{"p":"S_flavonol","x":-0.5,"y":22},{"p":"S_flavonol","x":0.2,"y":30},{"p":"S_flavonol","x":0.9,"y":20},{"p":"S_flavonol","x":1.6,"y":12},{"p":"S_flavonol","x":2.3,"y":8},{"p":"S_flavonol","x":3.0,"y":6},{"p":"S_flavonol","x":3.7,"y":5},{"p":"S_flavonol","x":4.4,"y":4},{"p":"S_flavonol","x":5.1,"y":3},{"p":"S_flavonol","x":5.8,"y":3},{"p":"S_flavonol","x":6.5,"y":2},{"p":"S_flavonol","x":7.2,"y":2},{"p":"S_flavonol","x":8.6,"y":1},{"p":"S_flavonol","x":10,"y":1},{"p":"S_flavonol","x":12.5,"y":1},
{"p":"S_monstil","x":-14,"y":1},{"p":"S_monstil","x":-11,"y":1},{"p":"S_monstil","x":-9.5,"y":2},{"p":"S_monstil","x":-8,"y":3},{"p":"S_monstil","x":-6.7,"y":3},{"p":"S_monstil","x":-5.3,"y":4},{"p":"S_monstil","x":-4,"y":6},{"p":"S_monstil","x":-2.6,"y":8},{"p":"S_monstil","x":-1.2,"y":10},{"p":"S_monstil","x":0.2,"y":13},{"p":"S_monstil","x":1.6,"y":11},{"p":"S_monstil","x":3,"y":16},{"p":"S_monstil","x":4.4,"y":12},{"p":"S_monstil","x":5.8,"y":14},{"p":"S_monstil","x":7.2,"y":10},{"p":"S_monstil","x":8.6,"y":9},{"p":"S_monstil","x":10,"y":7},{"p":"S_monstil","x":11.4,"y":6},{"p":"S_monstil","x":12.8,"y":4},{"p":"S_monstil","x":14.2,"y":3},{"p":"S_monstil","x":15.6,"y":3},{"p":"S_monstil","x":17,"y":2},{"p":"S_monstil","x":19,"y":2},{"p":"S_monstil","x":22,"y":1},{"p":"S_monstil","x":27,"y":1},
{"p":"S_dimstil","x":-14,"y":1},{"p":"S_dimstil","x":-10,"y":1},{"p":"S_dimstil","x":-8,"y":2},{"p":"S_dimstil","x":-6,"y":3},{"p":"S_dimstil","x":-4,"y":5},{"p":"S_dimstil","x":-2,"y":8},{"p":"S_dimstil","x":0,"y":12},{"p":"S_dimstil","x":2,"y":20},{"p":"S_dimstil","x":4,"y":14},{"p":"S_dimstil","x":6,"y":12},{"p":"S_dimstil","x":8,"y":15},{"p":"S_dimstil","x":10,"y":10},{"p":"S_dimstil","x":12,"y":8},{"p":"S_dimstil","x":14,"y":6},{"p":"S_dimstil","x":16,"y":5},{"p":"S_dimstil","x":18,"y":3},{"p":"S_dimstil","x":20,"y":3},{"p":"S_dimstil","x":22,"y":2},{"p":"S_dimstil","x":26,"y":1},{"p":"S_dimstil","x":30,"y":1},{"p":"S_dimstil","x":34,"y":1},{"p":"S_dimstil","x":42,"y":1},
{"p":"S_trimstil","x":-52,"y":1},{"p":"S_trimstil","x":-30,"y":1},{"p":"S_trimstil","x":-18,"y":1},{"p":"S_trimstil","x":-14,"y":2},{"p":"S_trimstil","x":-10,"y":3},{"p":"S_trimstil","x":-6,"y":5},{"p":"S_trimstil","x":-2,"y":10},{"p":"S_trimstil","x":2,"y":60},{"p":"S_trimstil","x":6,"y":20},{"p":"S_trimstil","x":10,"y":12},{"p":"S_trimstil","x":14,"y":10},{"p":"S_trimstil","x":18,"y":8},{"p":"S_trimstil","x":22,"y":5},{"p":"S_trimstil","x":26,"y":4},{"p":"S_trimstil","x":30,"y":3},{"p":"S_trimstil","x":34,"y":2},{"p":"S_trimstil","x":38,"y":2},{"p":"S_trimstil","x":46,"y":1},{"p":"S_trimstil","x":56,"y":1},
{"p":"S_tetrstil","x":-14,"y":1},{"p":"S_tetrstil","x":-11,"y":1},{"p":"S_tetrstil","x":-9,"y":2},{"p":"S_tetrstil","x":-7.8,"y":3},{"p":"S_tetrstil","x":-6.5,"y":4},{"p":"S_tetrstil","x":-5.2,"y":5},{"p":"S_tetrstil","x":-3.9,"y":6},{"p":"S_tetrstil","x":-2.6,"y":8},{"p":"S_tetrstil","x":-1.3,"y":10},{"p":"S_tetrstil","x":0,"y":15},{"p":"S_tetrstil","x":1.3,"y":11},{"p":"S_tetrstil","x":2.6,"y":9},{"p":"S_tetrstil","x":3.9,"y":10},{"p":"S_tetrstil","x":5.2,"y":8},{"p":"S_tetrstil","x":6.5,"y":12},{"p":"S_tetrstil","x":7.8,"y":9},{"p":"S_tetrstil","x":9.1,"y":8},{"p":"S_tetrstil","x":10.4,"y":10},{"p":"S_tetrstil","x":11.7,"y":6},{"p":"S_tetrstil","x":13,"y":7},{"p":"S_tetrstil","x":14.3,"y":5},{"p":"S_tetrstil","x":15.6,"y":4},{"p":"S_tetrstil","x":17,"y":3},{"p":"S_tetrstil","x":19,"y":2},{"p":"S_tetrstil","x":22,"y":1},
{"p":"S_poistil","x":-24,"y":1},{"p":"S_poistil","x":-18,"y":1},{"p":"S_poistil","x":-14,"y":2},{"p":"S_poistil","x":-11,"y":3},{"p":"S_poistil","x":-7,"y":4},{"p":"S_poistil","x":-4,"y":6},{"p":"S_poistil","x":0,"y":10},{"p":"S_poistil","x":3,"y":15},{"p":"S_poistil","x":6,"y":12},{"p":"S_poistil","x":10,"y":9},{"p":"S_poistil","x":13,"y":8},{"p":"S_poistil","x":16,"y":10},{"p":"S_poistil","x":20,"y":7},{"p":"S_poistil","x":23,"y":6},{"p":"S_poistil","x":26,"y":5},{"p":"S_poistil","x":30,"y":6},{"p":"S_poistil","x":33,"y":4},{"p":"S_poistil","x":36,"y":3},{"p":"S_poistil","x":40,"y":3},{"p":"S_poistil","x":43,"y":2},{"p":"S_poistil","x":50,"y":1},{"p":"S_poistil","x":56,"y":1},{"p":"S_poistil","x":65,"y":1},{"p":"S_poistil","x":73,"y":1},
{"p":"S_allstil","x":-58,"y":1},{"p":"S_allstil","x":-40,"y":1},{"p":"S_allstil","x":-30,"y":2},{"p":"S_allstil","x":-24,"y":3},{"p":"S_allstil","x":-18,"y":5},{"p":"S_allstil","x":-12,"y":7},{"p":"S_allstil","x":-6,"y":12},{"p":"S_allstil","x":0,"y":22},{"p":"S_allstil","x":6,"y":18},{"p":"S_allstil","x":12,"y":14},{"p":"S_allstil","x":18,"y":10},{"p":"S_allstil","x":24,"y":10},{"p":"S_allstil","x":30,"y":8},{"p":"S_allstil","x":36,"y":6},{"p":"S_allstil","x":42,"y":5},{"p":"S_allstil","x":48,"y":4},{"p":"S_allstil","x":54,"y":3},{"p":"S_allstil","x":60,"y":2},{"p":"S_allstil","x":72,"y":2},{"p":"S_allstil","x":84,"y":1},{"p":"S_allstil","x":100,"y":1},{"p":"S_allstil","x":118,"y":1},
{"p":"R_dim-monstil","x":-8,"y":1},{"p":"R_dim-monstil","x":-0.3,"y":3},{"p":"R_dim-monstil","x":0,"y":60},{"p":"R_dim-monstil","x":0.3,"y":4},{"p":"R_dim-monstil","x":4,"y":1},
{"p":"R_trim-monstil","x":-55,"y":1},{"p":"R_trim-monstil","x":-1,"y":2},{"p":"R_trim-monstil","x":0,"y":70},{"p":"R_trim-monstil","x":1,"y":2},{"p":"R_trim-monstil","x":5,"y":1},
{"p":"R_tetr-monstil","x":-3.5,"y":1},{"p":"R_tetr-monstil","x":-1.2,"y":2},{"p":"R_tetr-monstil","x":-0.6,"y":3},{"p":"R_tetr-monstil","x":-0.3,"y":10},{"p":"R_tetr-monstil","x":0,"y":60},{"p":"R_tetr-monstil","x":0.3,"y":15},{"p":"R_tetr-monstil","x":0.6,"y":4},{"p":"R_tetr-monstil","x":1.2,"y":2},{"p":"R_tetr-monstil","x":3.5,"y":1},{"p":"R_tetr-monstil","x":4.5,"y":1},
{"p":"R_poi-monstil","x":-35,"y":1},{"p":"R_poi-monstil","x":-3,"y":2},{"p":"R_poi-monstil","x":0,"y":70},{"p":"R_poi-monstil","x":1,"y":3},
{"p":"S_allpolphen","x":-58,"y":1},{"p":"S_allpolphen","x":-45,"y":1},{"p":"S_allpolphen","x":-35,"y":2},{"p":"S_allpolphen","x":-28,"y":3},{"p":"S_allpolphen","x":-20,"y":5},{"p":"S_allpolphen","x":-13,"y":8},{"p":"S_allpolphen","x":-5,"y":12},{"p":"S_allpolphen","x":2,"y":15},{"p":"S_allpolphen","x":10,"y":12},{"p":"S_allpolphen","x":17,"y":14},{"p":"S_allpolphen","x":25,"y":10},{"p":"S_allpolphen","x":32,"y":11},{"p":"S_allpolphen","x":40,"y":8},{"p":"S_allpolphen","x":47,"y":6},{"p":"S_allpolphen","x":55,"y":5},{"p":"S_allpolphen","x":62,"y":4},{"p":"S_allpolphen","x":70,"y":3},{"p":"S_allpolphen","x":77,"y":3},{"p":"S_allpolphen","x":85,"y":2},{"p":"S_allpolphen","x":100,"y":1},{"p":"S_allpolphen","x":120,"y":1},{"p":"S_allpolphen","x":155,"y":1}
]
},
"data": {"name": "bars"},
"transform": [{"lookup": "p", "from": {"data": {"name": "panels"}, "key": "p", "fields": ["k"]}}],
"facet": {
  "field": "p", "type": "nominal",
  "sort": ["galac","26oh-benac","fraxin","cafac","ferac","t-couac","cafaccat","phlor","lut7o-gl","narin","narin7-gl","cat","epicat","epigalcat","galcat","epigalcatgal","epicatgal","procyanb1","procyanb2","procyanb3","que3-gl","rutin","que3-gluc","kae3-gluc","t-resv","c-resv","picea","ptero","t-pice","c-pice","astrin","isorh","ce-vin","te-vin","cto-vin","palli","ampd+qua","a-vin","ec-miy","z-miyc","isoho","amph+vac","S_benac","S_hydcin","S_flavanon","S_flav3ol","S_flav3olgal","S_pac","S_allflav3ol","S_allflav3ol-pac","R_pac-allflav3ol","R_procyanb3-cat","S_flavonol","S_monstil","S_dimstil","S_trimstil","S_tetrstil","S_poistil","S_allstil","R_dim-monstil","R_trim-monstil","R_tetr-monstil","R_poi-monstil","S_allpolphen"],
  "title": "Delta value",
  "header": {"labelFontWeight": "bold", "labelFontSize": 10, "labelFont": "Liberation Sans", "labelColor": "#1a1a1a", "labelPadding": 1, "titleOrient": "bottom", "titleFontSize": 9, "titleFontWeight": "normal", "titleFont": "Liberation Sans", "titleColor": "#222", "titlePadding": 10}
},
"columns": 8,
"bounds": "flush",
"spacing": {"row": 30, "column": 19.5},
"spec": {
  "width": 63, "height": 33,
  "layer": [
    {"mark": {"type": "bar", "size": 2, "stroke": null},
     "encoding": {
       "x": {"field": "x", "type": "quantitative", "title": null, "scale": {"zero": false, "nice": false, "padding": 3}, "axis": {"tickCount": 4}},
       "y": {"field": "y", "type": "quantitative", "title": null, "scale": {"nice": false, "padding": 2}, "axis": {"tickCount": 4}},
       "color": {"field": "k", "type": "nominal", "scale": {"domain": ["b","g"], "range": ["#111111","#c8c8c8"]}, "legend": null}
     }},
    {"transform": [{"aggregate": [{"op": "count", "as": "n"}], "groupby": ["p"]}],
     "mark": {"type": "rule", "color": "#cc2a2a", "strokeDash": [4,3], "strokeWidth": 1.3},
     "encoding": {"x": {"datum": 0}}}
  ]
},
"resolve": {"scale": {"x": "independent", "y": "independent"}},
"config": {
  "font": "Liberation Sans",
  "view": {"stroke": "#b3b3b3", "strokeWidth": 1},
  "axis": {"labelFontSize": 7.5, "labelColor": "#4d4d4d", "labelFont": "Liberation Sans", "tickColor": "#b3b3b3", "tickSize": 2.5, "domain": false, "gridColor": "#e6e6e6", "gridWidth": 0.6, "labelPadding": 1, "labelFlush": false}
}
}
